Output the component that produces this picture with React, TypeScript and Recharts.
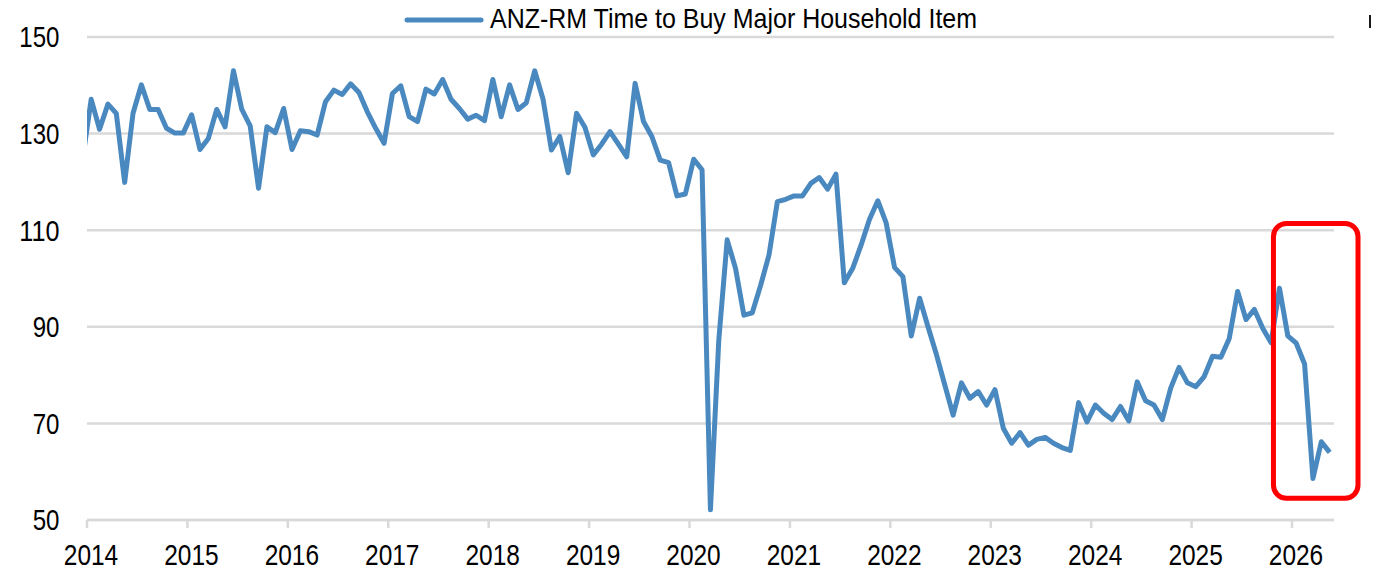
import React from 'react';
import { LineChart, Line, XAxis, YAxis, CartesianGrid, ReferenceArea } from 'recharts';

const SERIES_NAME = 'ANZ-RM Time to Buy Major Household Item';
const START_YEAR = 2013;
const START_MONTH = 12;

const v2013 = [125.0];
const v2014 = [137.1, 130.9, 136.1, 134.2, 119.9, 134.2, 140.1, 135.0, 135.0, 131.1, 130.1, 130.1];
const v2015 = [133.9, 126.7, 129.0, 135.0, 131.4, 143.0, 135.0, 131.6, 118.7, 131.4, 130.2, 135.2];
const v2016 = [126.7, 130.6, 130.4, 129.7, 136.6, 139.0, 138.1, 140.3, 138.5, 134.5, 131.1, 128.0];
const v2017 = [138.3, 139.9, 133.5, 132.5, 139.2, 138.2, 141.2, 137.1, 135.2, 133.0, 133.8, 132.7];
const v2018 = [141.2, 133.5, 140.1, 135.0, 136.4, 143.0, 137.1, 126.6, 129.4, 121.9, 134.2, 131.3];
const v2019 = [125.6, 127.8, 130.4, 127.8, 125.2, 140.4, 132.5, 129.4, 124.5, 124.0, 117.1, 117.5];
const v2020 = [124.7, 122.5, 52.1, 87.3, 108.0, 102.1, 92.4, 92.9, 98.6, 104.9, 115.9, 116.4];
const v2021 = [117.1, 117.1, 119.7, 120.9, 118.5, 121.6, 99.1, 102.1, 106.9, 112.2, 116.1, 111.5];
const v2022 = [102.3, 100.4, 88.1, 95.9, 90.0, 84.3, 78.0, 71.7, 78.4, 75.2, 76.6, 73.8];
const v2023 = [77.0, 69.0, 65.9, 68.1, 65.5, 66.7, 67.1, 65.9, 65.0, 64.4, 74.3, 70.3];
const v2024 = [73.8, 72.1, 70.8, 73.5, 70.5, 78.6, 74.7, 73.8, 70.8, 77.3, 81.6, 78.4];
const v2025 = [77.6, 79.7, 83.9, 83.7, 87.6, 97.3, 91.5, 93.6, 89.7, 86.7, 98.0, 88.1];
const v2026 = [86.6, 82.3, 58.6, 66.2, 64.0];

const yearTicks = [2014, 2015, 2016, 2017, 2018, 2019, 2020, 2021, 2022, 2023, 2024, 2025, 2026];
const yTicks = [50, 70, 90, 110, 130, 150];
const xDomain = [2014, 2026.418];
const yDomain = [50, 150];

// highlight annotation (data coordinates)
const highlightX = [2025.815, 2026.657];
const highlightY = [54.5, 111.4];

const allValues = [
  ...v2013, ...v2014, ...v2015, ...v2016, ...v2017, ...v2018, ...v2019,
  ...v2020, ...v2021, ...v2022, ...v2023, ...v2024, ...v2025, ...v2026,
];

const data = allValues.map((v, i) => {
  const idx = START_MONTH - 1 + i;
  const year = START_YEAR + Math.floor(idx / 12);
  const m = idx % 12;
  return { t: year + (m + 0.5) / 12, value: v };
});

const LINE_COLOR = '#4a89bf';
const GRID_COLOR = '#d9d9d9';
const FONT = '"Liberation Sans", Arial, sans-serif';

const XTick = (props: any) => {
  const { x, y, payload } = props;
  const label = String(payload.value);
  return (
    <text
      x={x + 4}
      y={y}
      dy={37}
      textAnchor="middle"
      fontFamily={FONT}
      fontSize={30}
      fill="#000"
      textLength={13.6 * label.length}
      lengthAdjust="spacingAndGlyphs"
    >
      {label}
    </text>
  );
};

const YTick = (props: any) => {
  const { x, y, payload } = props;
  const label = String(payload.value);
  return (
    <text
      x={x}
      y={y}
      dy={10.3}
      textAnchor="end"
      fontFamily={FONT}
      fontSize={30}
      fill="#000"
      textLength={13.4 * label.length}
      lengthAdjust="spacingAndGlyphs"
    >
      {label}
    </text>
  );
};

const RoundedBox = (p: any) => (
  <rect
    x={p.x}
    y={p.y}
    width={p.width}
    height={p.height}
    rx={13}
    ry={13}
    fill="none"
    stroke="#ff0000"
    strokeWidth={5}
  />
);

export default function App() {
  return (
    <div style={{ position: 'absolute', left: 0, top: 0, width: 1387, height: 585, background: '#fff' }}>
      <LineChart
        width={1387}
        height={585}
        data={data}
        margin={{ top: 37, right: 53, bottom: 0, left: 0 }}
      >
        <CartesianGrid vertical={false} stroke={GRID_COLOR} strokeWidth={2.5} />
        <XAxis
          type="number"
          dataKey="t"
          domain={xDomain}
          allowDataOverflow
          ticks={yearTicks}
          interval={0}
          height={65}
          tickSize={8}
          tickMargin={0}
          axisLine={{ stroke: GRID_COLOR, strokeWidth: 2.5 }}
          tickLine={{ stroke: GRID_COLOR, strokeWidth: 2.5 }}
          tick={<XTick />}
        />
        <YAxis
          type="number"
          domain={yDomain}
          allowDataOverflow
          ticks={yTicks}
          interval={0}
          width={87}
          axisLine={false}
          tickLine={false}
          tickSize={0}
          tickMargin={27.5}
          tick={<YTick />}
        />
        <Line
          type="linear"
          dataKey="value"
          name={SERIES_NAME}
          stroke={LINE_COLOR}
          strokeWidth={5}
          strokeLinejoin="round"
          dot={false}
          activeDot={false}
          isAnimationActive={false}
        />
        <ReferenceArea
          x1={highlightX[0]}
          x2={highlightX[1]}
          y1={highlightY[0]}
          y2={highlightY[1]}
          ifOverflow="visible"
          shape={<RoundedBox />}
          zIndex={1500}
        />
      </LineChart>
      <svg
        width={1387}
        height={40}
        style={{ position: 'absolute', left: 0, top: 0, pointerEvents: 'none' }}
      >
        <line x1={407} y1={20} x2={481} y2={20} stroke={LINE_COLOR} strokeWidth={5} strokeLinecap="round" />
        <text
          x={490}
          y={27.5}
          fontFamily={FONT}
          fontSize={28.5}
          fill="#000"
          textLength={487}
          lengthAdjust="spacingAndGlyphs"
        >
          {SERIES_NAME}
        </text>
        <line x1={1370} y1={15} x2={1370} y2={28} stroke="#000" strokeWidth={1.8} />
      </svg>
    </div>
  );
}
